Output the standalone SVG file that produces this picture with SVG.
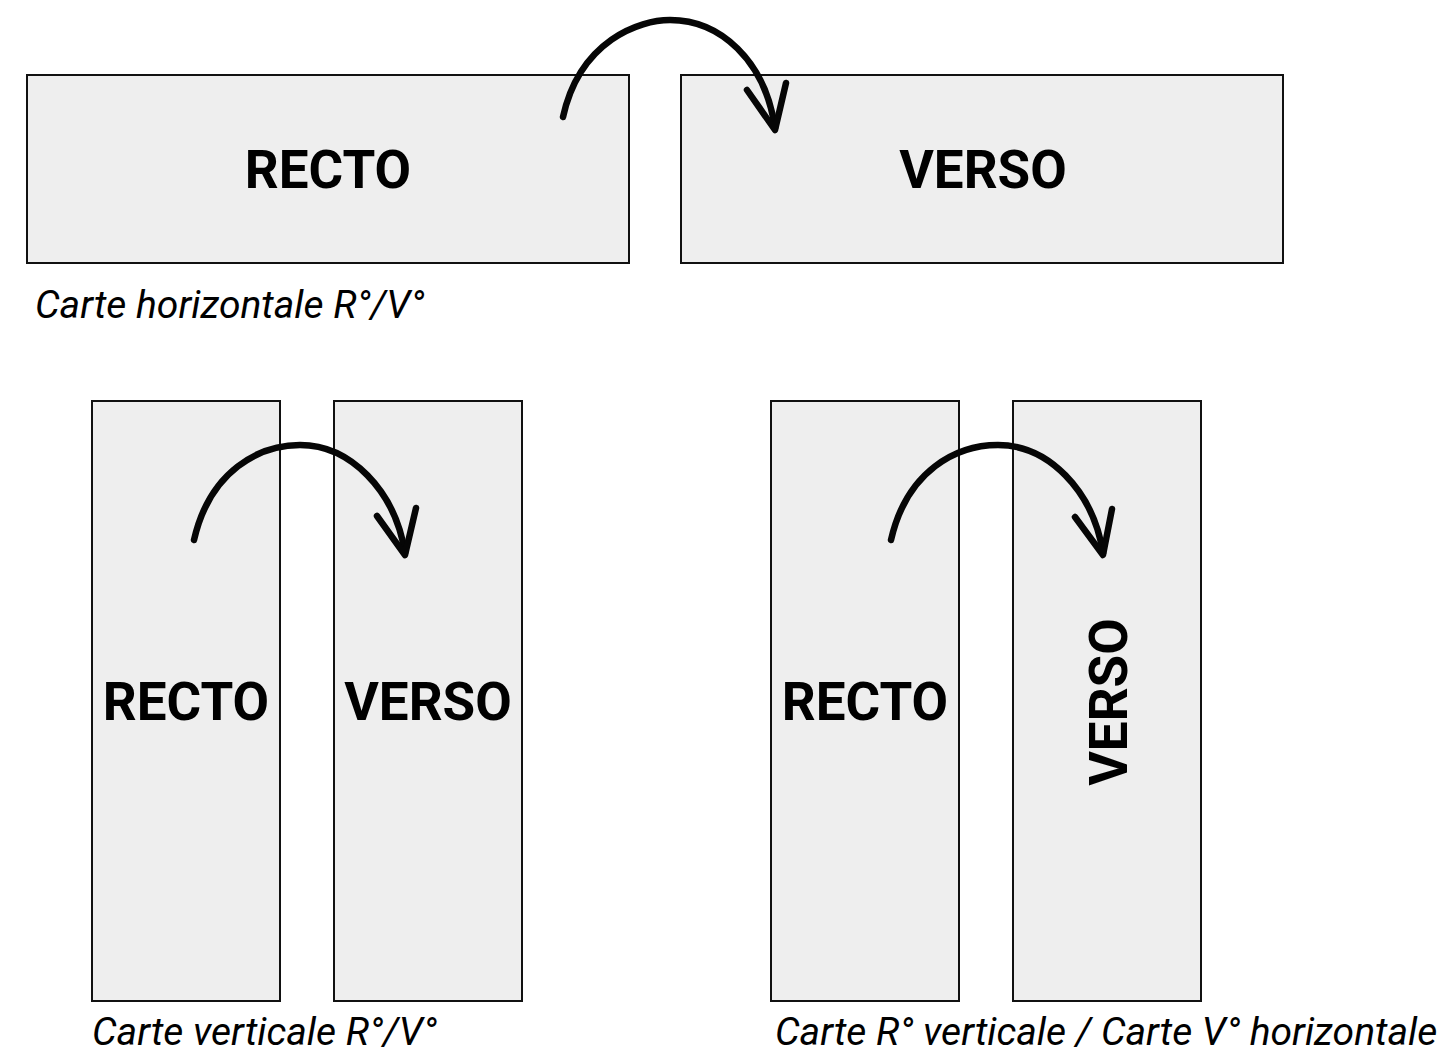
<svg xmlns="http://www.w3.org/2000/svg" width="1441" height="1064" viewBox="0 0 1441 1064">
<defs>
<style>
.card{fill:#eeeeee;stroke:#111;stroke-width:2}
.lbl{font-family:Roboto,"Liberation Sans",sans-serif;font-weight:bold;font-size:53px;fill:#000;text-anchor:middle}
.cap{font-family:Roboto,"Liberation Sans",sans-serif;font-style:italic;font-size:39px;fill:#000}
.arc{fill:none;stroke:#060606;stroke-width:6.5;stroke-linecap:round;stroke-linejoin:round}
</style>
</defs>
<rect width="1441" height="1064" fill="#fff"/>
<g id="recto-h"><rect class="card" x="27" y="75" width="602" height="188"/><text class="lbl" x="328" y="188">RECTO</text></g>
<g id="verso-h"><rect class="card" x="681" y="75" width="602" height="188"/><text class="lbl" x="983" y="188">VERSO</text></g>
<text class="cap" x="35" y="318">Carte horizontale R°/V°</text>
<g id="recto-v1"><rect class="card" x="92" y="401" width="188" height="600"/><text class="lbl" x="186" y="720">RECTO</text></g>
<g id="verso-v1"><rect class="card" x="334" y="401" width="188" height="600"/><text class="lbl" x="428" y="720">VERSO</text></g>
<text class="cap" x="92" y="1045">Carte verticale R°/V°</text>
<g id="recto-v2"><rect class="card" x="771" y="401" width="188" height="600"/><text class="lbl" x="865" y="720">RECTO</text></g>
<g id="verso-v2"><rect class="card" x="1013" y="401" width="188" height="600"/><text class="lbl" transform="translate(1127 702) rotate(-90)" x="0" y="0">VERSO</text></g>
<text class="cap" x="775" y="1045">Carte R° verticale / Carte V° horizontale</text>
<g id="connectors">
<path class="arc" d="M563 117 C580 40 640 20 670 20 C720 20 765 60 775 128"/>
<path class="arc" d="M747 90 L775 130 L786 83"/>
<path class="arc" d="M194 540 C210 470 260 445 300 445 C350 445 395 490 405 553"/>
<path class="arc" d="M377 516 L405 555 L416 508"/>
<path class="arc" d="M891 540 C907 470 957 445 998 445 C1048 445 1093 490 1103 553"/>
<path class="arc" d="M1075 517 L1103 555 L1112 509"/>
</g>
</svg>
